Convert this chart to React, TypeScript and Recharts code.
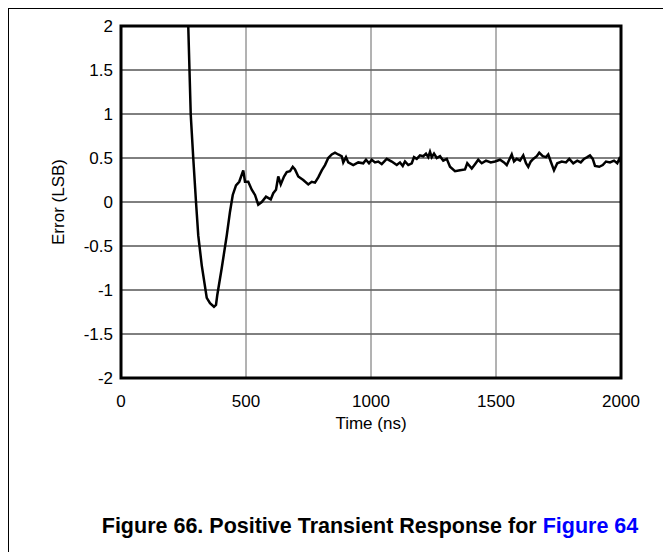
import { LineChart, Line, XAxis, YAxis, CartesianGrid, ReferenceArea } from "recharts"

const times = [
  262, 269, 279, 289, 300, 309, 323, 343, 356, 372, 380, 385, 403, 423, 436, 447, 460, 473, 489, 496,
  509, 523, 536, 549, 563, 580, 599, 609, 620, 629, 639, 652, 663, 676, 687, 696, 709, 729, 749, 763,
  776, 789, 803, 816, 829, 843, 856, 869, 883, 889, 900, 909, 929, 949, 969, 980, 992, 1003, 1016, 1029,
  1043, 1063, 1083, 1103, 1116, 1127, 1136, 1149, 1163, 1172, 1183, 1196, 1209, 1220, 1229, 1236, 1243, 1252, 1263, 1276,
  1289, 1303, 1316, 1336, 1356, 1376, 1385, 1403, 1416, 1429, 1443, 1460, 1479, 1496, 1516, 1532, 1543, 1553, 1563, 1572,
  1583, 1596, 1609, 1620, 1629, 1639, 1649, 1663, 1673, 1687, 1700, 1709, 1719, 1732, 1745, 1763, 1780, 1793, 1809, 1825,
  1839, 1852, 1865, 1876, 1887, 1896, 1913, 1927, 1940, 1956, 1972, 1985, 1993, 2000,
]

const errors = [
  2.7, 2.0, 0.99, 0.5, 0.0, -0.38, -0.72, -1.09, -1.15, -1.19, -1.17, -1.06, -0.75, -0.38, -0.11, 0.08, 0.19, 0.23, 0.36, 0.23,
  0.23, 0.14, 0.08, -0.03, 0.0, 0.06, 0.03, 0.1, 0.14, 0.29, 0.2, 0.29, 0.34, 0.35, 0.4, 0.37, 0.29, 0.25, 0.2, 0.23,
  0.22, 0.28, 0.36, 0.42, 0.5, 0.54, 0.56, 0.54, 0.52, 0.45, 0.51, 0.45, 0.42, 0.45, 0.44, 0.48, 0.44, 0.48, 0.45, 0.46,
  0.43, 0.49, 0.46, 0.42, 0.45, 0.41, 0.46, 0.42, 0.44, 0.51, 0.49, 0.53, 0.52, 0.55, 0.51, 0.57, 0.51, 0.55, 0.5, 0.52,
  0.47, 0.49, 0.4, 0.35, 0.36, 0.37, 0.44, 0.38, 0.43, 0.48, 0.44, 0.47, 0.45, 0.46, 0.48, 0.45, 0.42, 0.48, 0.54, 0.46,
  0.49, 0.47, 0.53, 0.44, 0.4, 0.46, 0.49, 0.52, 0.56, 0.52, 0.51, 0.54, 0.46, 0.36, 0.44, 0.46, 0.45, 0.49, 0.44, 0.47,
  0.45, 0.49, 0.51, 0.53, 0.49, 0.41, 0.4, 0.42, 0.46, 0.45, 0.47, 0.44, 0.49, 0.45,
]

const xTicks = [0, 500, 1000, 1500, 2000]
const yTicks = [-2, -1.5, -1, -0.5, 0, 0.5, 1, 1.5, 2]

const data = times.map((t, i) => ({ time: t, error: errors[i] }))

const font = "'Liberation Sans', Arial, sans-serif"

export default function App() {
  return (
    <div
      style={{
        position: "relative",
        width: 663,
        height: 544,
        borderTop: "1px solid #000",
        borderLeft: "1px solid #000",
        fontFamily: font,
      }}
    >
      <LineChart width={662} height={543} data={data} margin={{ top: 17, right: 50, bottom: 123, left: 40 }}>
        <CartesianGrid vertical={false} stroke="#000" horizontalValues={yTicks} />
        <CartesianGrid horizontal={false} stroke="#666" verticalValues={xTicks} />
        <XAxis
          dataKey="time"
          type="number"
          domain={[0, 2000]}
          ticks={xTicks}
          axisLine={false}
          tickLine={false}
          tickSize={6}
          tickMargin={11}
          height={51}
          tick={{ fontSize: 17, fill: "#000", fontFamily: font }}
          label={{ value: "Time (ns)", position: "insideBottom", offset: 0, fill: "#000", fontSize: 17, fontFamily: font }}
        />
        <YAxis
          type="number"
          domain={[-2, 2]}
          ticks={yTicks}
          allowDataOverflow
          axisLine={false}
          tickLine={false}
          width={72}
          tick={{ fontSize: 17, fill: "#000", fontFamily: font }}
          label={{
            value: "Error (LSB)",
            angle: -90,
            position: "insideLeft",
            offset: 9,
            fill: "#000",
            fontSize: 17,
            fontFamily: font,
            style: { textAnchor: "middle" },
          }}
        />
        <Line
          type="linear"
          dataKey="error"
          stroke="#000"
          strokeWidth={2.5}
          dot={false}
          isAnimationActive={false}
        />
        <ReferenceArea x1={0} x2={2000} y1={-2} y2={2} fill="none" stroke="#000" strokeWidth={3} />
      </LineChart>
      <div
        style={{
          position: "absolute",
          left: 361,
          top: 505,
          transform: "translateX(-50%)",
          whiteSpace: "nowrap",
          fontWeight: "bold",
          fontSize: 21.5,
          color: "#000",
        }}
      >
        Figure 66. Positive Transient Response for <span style={{ color: "#0000ff" }}>Figure 64</span>
      </div>
    </div>
  )
}
